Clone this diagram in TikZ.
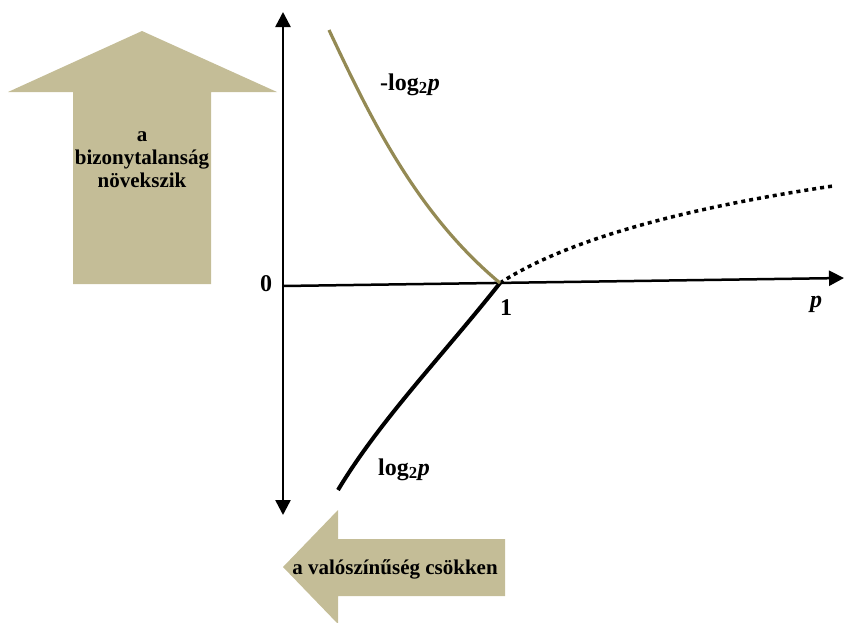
\documentclass[tikz,border=0pt]{standalone}
\usepackage{fontspec}
\setmainfont{Liberation Serif}
\usetikzlibrary{arrows.meta}
\definecolor{arrowtan}{HTML}{C4BD97}
\definecolor{curvebrown}{HTML}{948A54}
\begin{document}
\begin{tikzpicture}[x=1pt, y=-1pt,
    lbl/.style={font=\fontsize{24}{28}\selectfont\bfseries, inner sep=0pt},
    arrtxt/.style={font=\fontsize{21}{23}\selectfont\bfseries, align=center, inner sep=0pt},
    >={Triangle[width=15pt,length=15pt]}]
  \useasboundingbox (0,0) rectangle (844,622);
  % the two block arrows
  \fill[arrowtan] (142,31) -- (277,92) -- (211,92) -- (211,284) -- (73,284)
      -- (73,92) -- (8,92) -- cycle;
  \fill[arrowtan] (283,567) -- (338,510) -- (338,539) -- (505,539) -- (505,596)
      -- (338,596) -- (338,624) -- cycle;
  \node[arrtxt] (grows) at (142,160) {a\\bizonytalanság\\növekszik};
  \node[arrtxt, anchor=base] (falls) at (395,574) {a valószínűség csökken};
  % axes
  \coordinate (O) at (283,286);
  \coordinate (ytop) at (283,12);
  \coordinate (ybot) at (283,515);
  \coordinate (xend) at (844,278);
  \coordinate (one) at (500,283);
  \draw[line width=2.5pt, <->] (ybot) -- (ytop);
  \draw[line width=2.5pt, ->] (O) -- (xend);
  \node[lbl] (zero) at (266,284) {0};
  \node[lbl] (onelbl) at (506,308) {1};
  \node[lbl, anchor=base] (plbl) at (816,307) {\textit{p}};
  % curves
  \coordinate (negtop) at (329,30);
  \coordinate (logbot) at (338,490);
  \coordinate (dotend) at (833,186);
  \draw[line width=4pt] (one) .. controls (444,354) and (380,420) .. (logbot);
  \draw[line width=3.5pt, dash pattern=on 4pt off 4pt]
      (one) .. controls (580,231) and (723,202.5) .. (dotend);
  \draw[curvebrown, line width=3.2pt] (one) .. controls (416,213) and (370,117) .. (negtop);
  \node[lbl, anchor=base west] (neglog) at (380,90) {-log\textsubscript{2}\textit{p}};
  \node[lbl, anchor=base west] (poslog) at (378,475) {log\textsubscript{2}\textit{p}};
\end{tikzpicture}
\end{document}
